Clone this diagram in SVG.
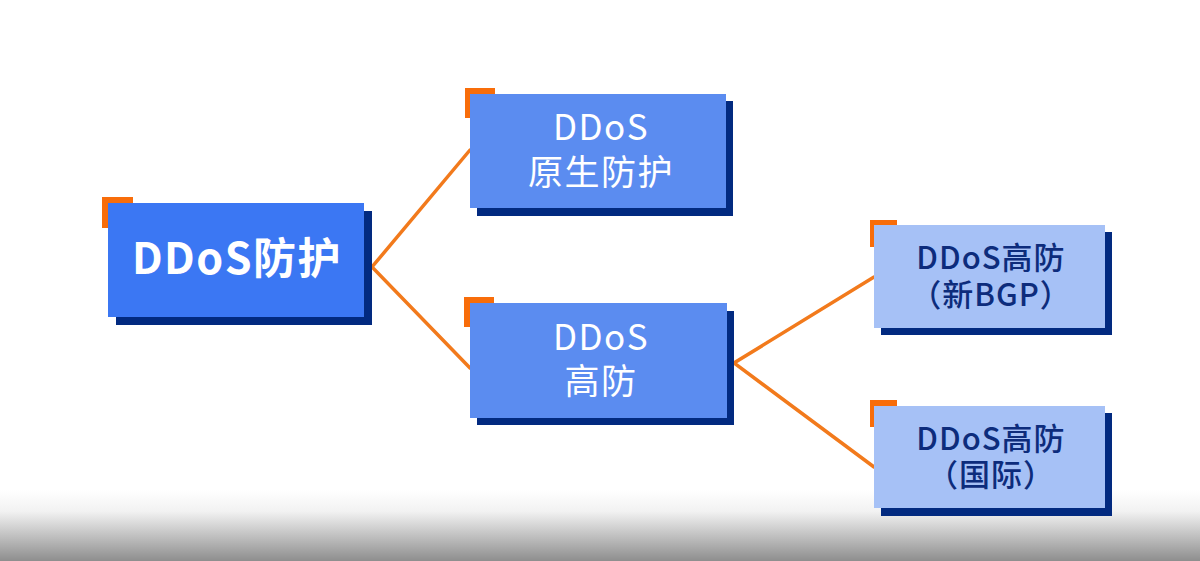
<svg xmlns="http://www.w3.org/2000/svg" width="1200" height="561" viewBox="0 0 1200 561">
<defs>
<linearGradient id="floor" x1="0" y1="0" x2="0" y2="1">
<stop offset="0" stop-color="#ffffff"/>
<stop offset="0.3" stop-color="#f2f2f2"/>
<stop offset="1" stop-color="#8e8e8e"/>
</linearGradient>
<style>
.corner{fill:#f86d0a}
.shadow{fill:#022a80}
.lv0{fill:#3b77f3}
.lv1{fill:#5b8cf0}
.lv2{fill:#a6c1f6}
.conn{stroke:#f27a1c;stroke-width:3.5;fill:none;stroke-linecap:round}
text{font-family:"Noto Sans CJK SC","Noto Sans",sans-serif;text-anchor:middle}
.t0{fill:#ffffff;font-size:43px;font-weight:700;letter-spacing:1.5px}
.t1{fill:#ffffff;font-size:35px;font-weight:400;letter-spacing:1.5px}
.t2{fill:#0d2c7c;font-size:31px;font-weight:500;letter-spacing:1px}
</style>
</defs>
<rect x="0" y="0" width="1200" height="561" fill="#ffffff"/>
<rect x="0" y="490" width="1200" height="71" fill="url(#floor)"/>
<g id="connectors">
<polyline class="conn" points="470,150 372,267 470,368"/>
<polyline class="conn" points="874,277 734,363 874,467"/>
</g>
<g id="root">
<rect class="corner" x="102" y="197" width="31" height="31"/>
<rect class="shadow" x="116" y="211" width="256" height="114"/>
<rect class="lv0" x="108" y="203" width="256" height="114"/>
<text class="t0" x="237" y="274">DDoS防护</text>
</g>
<g id="native">
<rect class="corner" x="465" y="88" width="30" height="30"/>
<rect class="shadow" x="477" y="101" width="256" height="115"/>
<rect class="lv1" x="470" y="94" width="256" height="114"/>
<text class="t1" x="601" y="140">DDoS</text>
<text class="t1" x="601" y="185">原生防护</text>
</g>
<g id="high">
<rect class="corner" x="464" y="297" width="30" height="30"/>
<rect class="shadow" x="477" y="311" width="257" height="114"/>
<rect class="lv1" x="470" y="303" width="257" height="115"/>
<text class="t1" x="601" y="350">DDoS</text>
<text class="t1" x="601" y="394">高防</text>
</g>
<g id="bgp">
<rect class="corner" x="870" y="220" width="27" height="27"/>
<rect class="shadow" x="881" y="232" width="231" height="103"/>
<rect class="lv2" x="874" y="225" width="231" height="103"/>
<text class="t2" x="991" y="269">DDoS高防</text>
<text class="t2" x="991" y="306">（新BGP）</text>
</g>
<g id="intl">
<rect class="corner" x="870" y="400" width="27" height="27"/>
<rect class="shadow" x="881" y="413" width="231" height="103"/>
<rect class="lv2" x="874" y="406" width="231" height="102"/>
<text class="t2" x="991" y="450">DDoS高防</text>
<text class="t2" x="991" y="486">（国际）</text>
</g>
</svg>
